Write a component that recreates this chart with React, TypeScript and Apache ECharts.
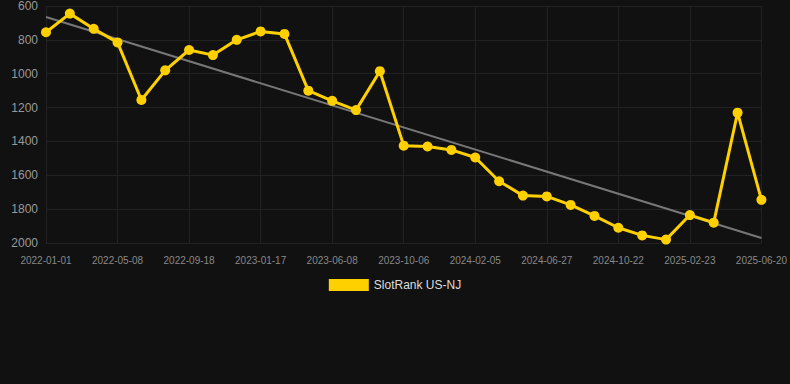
import React, { useEffect, useRef } from "react";
import * as echarts from "echarts";

const categories = [
  "2022-01-01", "2022-02-12", "2022-03-27", "2022-05-08", "2022-06-22", "2022-08-05",
  "2022-09-18", "2022-10-29", "2022-12-08", "2023-01-17", "2023-03-05", "2023-04-21",
  "2023-06-08", "2023-07-18", "2023-08-27", "2023-10-06", "2023-11-16", "2023-12-26",
  "2024-02-05", "2024-03-23", "2024-05-10", "2024-06-27", "2024-08-05", "2024-09-13",
  "2024-10-22", "2024-12-02", "2025-01-12", "2025-02-23", "2025-04-03", "2025-05-12",
  "2025-06-20",
];

const rankValues = [
  755, 645, 735, 815, 1155, 980, 860, 890, 800, 750, 765, 1100, 1160, 1215, 985,
  1425, 1430, 1450, 1495, 1635, 1720, 1725, 1775, 1840, 1910, 1955, 1980, 1835, 1880,
  1230, 1745,
];

const trendStart = 665;
const trendEnd = 1970;

const yTicks = { min: 600, max: 2000, interval: 200 };

export default function App() {
  const ref = useRef<HTMLDivElement>(null);
  useEffect(() => {
    if (!ref.current) return;
    const chart = echarts.init(ref.current, undefined, { renderer: "svg" });
    const trend = categories.map((_, i) =>
      i === 0 ? trendStart : i === categories.length - 1 ? trendEnd : null
    );
    chart.setOption({
      animation: false,
      backgroundColor: "#111111",
      grid: { left: 46, right: 28, top: 6, bottom: 141 },
      legend: {
        bottom: 88,
        left: "center",
        itemWidth: 40,
        itemHeight: 12,
        icon: "rect",
        data: ["SlotRank US-NJ"],
        textStyle: { color: "#dddddd", fontSize: 12, fontFamily: "Liberation Sans, Arial, sans-serif" },
      },
      xAxis: {
        type: "category",
        data: categories,
        boundaryGap: false,
        axisLine: { show: false },
        axisTick: { show: false },
        axisLabel: {
          interval: 2,
          color: "#888888",
          fontSize: 10,
          margin: 12,
          fontFamily: "Liberation Sans, Arial, sans-serif",
        },
        splitLine: { show: true, interval: 2, lineStyle: { color: "#222222", width: 1 } },
      },
      yAxis: {
        type: "value",
        inverse: true,
        min: yTicks.min,
        max: yTicks.max,
        interval: yTicks.interval,
        axisLine: { show: false },
        axisTick: { show: false },
        axisLabel: {
          color: "#999999",
          fontSize: 12,
          margin: 8,
          formatter: (v: number) => String(v),
          fontFamily: "Liberation Sans, Arial, sans-serif",
        },
        splitLine: { lineStyle: { color: "#222222", width: 1 } },
      },
      series: [
        {
          name: "Trend",
          type: "line",
          data: trend,
          connectNulls: true,
          showSymbol: false,
          symbol: "none",
          lineStyle: { color: "#777777", width: 2 },
          itemStyle: { color: "#777777" },
          silent: true,
          z: 1,
        },
        {
          name: "SlotRank US-NJ",
          type: "line",
          data: rankValues,
          symbol: "circle",
          symbolSize: 10,
          lineStyle: { color: "#FFD000", width: 3 },
          itemStyle: { color: "#FFD000" },
          z: 2,
        },
      ],
    });
    return () => chart.dispose();
  }, []);
  return <div ref={ref} style={{ width: 790, height: 384, position: "absolute", left: 0, top: 0 }} />;
}
